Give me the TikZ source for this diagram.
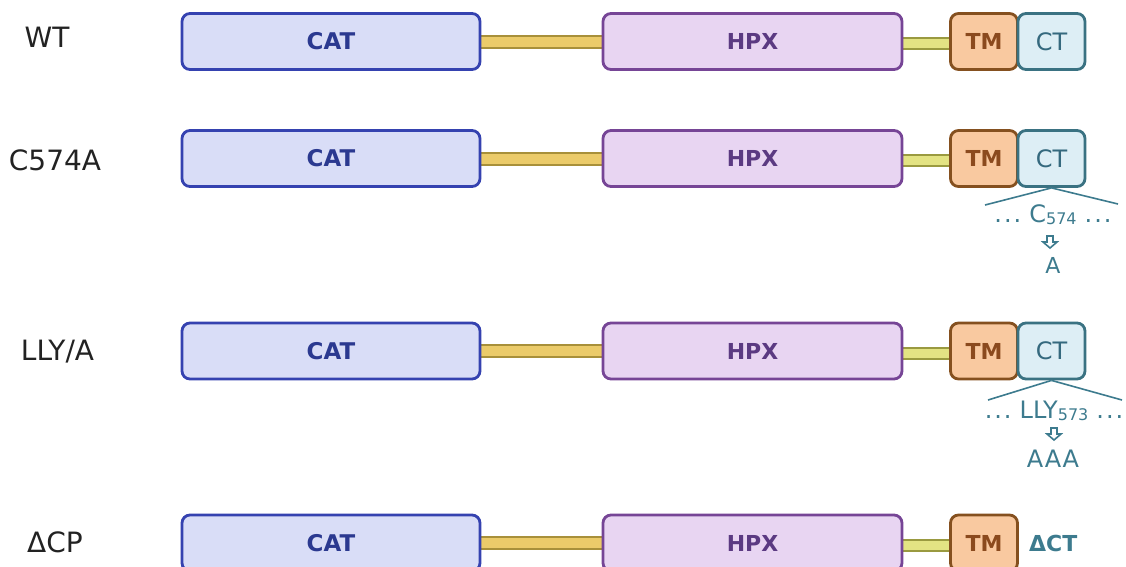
\documentclass[tikz,border=0pt]{standalone}
\usepackage{fontspec}
\setmainfont{DejaVu Sans}
\usetikzlibrary{backgrounds}
\definecolor{catfill}{HTML}{D9DDF7}
\definecolor{catdraw}{HTML}{3542B0}
\definecolor{cattext}{HTML}{2B3990}
\definecolor{hpxfill}{HTML}{E8D5F2}
\definecolor{hpxdraw}{HTML}{764596}
\definecolor{hpxtext}{HTML}{5B3A82}
\definecolor{tmfill}{HTML}{F9C9A0}
\definecolor{tmdraw}{HTML}{85501F}
\definecolor{tmtext}{HTML}{8B4A1E}
\definecolor{ctfill}{HTML}{DDEEF5}
\definecolor{ctdraw}{HTML}{3A7282}
\definecolor{cttext}{HTML}{35697E}
\definecolor{annot}{HTML}{3D7B8E}
\definecolor{goldfill}{HTML}{EBCB6A}
\definecolor{golddraw}{HTML}{A8903A}
\definecolor{yelfill}{HTML}{E3E383}
\definecolor{yeldraw}{HTML}{9A9A40}
\definecolor{labtext}{HTML}{222222}
\tikzset{
  dom/.style={draw, rounded corners=8pt, line width=2.8pt, inner sep=0pt, minimum height=56pt},
  catbox/.style={dom, fill=catfill, draw=catdraw, text=cattext, minimum width=298pt, font=\bfseries\fontsize{23}{23}\selectfont},
  hpxbox/.style={dom, fill=hpxfill, draw=hpxdraw, text=hpxtext, minimum width=299pt, font=\bfseries\fontsize{22}{22}\selectfont},
  tmbox/.style={dom, fill=tmfill, draw=tmdraw, text=tmtext, minimum width=67pt, font=\bfseries\fontsize{22}{22}\selectfont},
  ctbox/.style={dom, fill=ctfill, draw=ctdraw, text=cttext, minimum width=67pt, font=\fontsize{24}{24}\selectfont},
  linkA/.style={draw=golddraw, double=goldfill, line width=2pt, double distance=10pt},
  linkB/.style={draw=yeldraw, double=yelfill, line width=2pt, double distance=9pt},
  rowlab/.style={anchor=base, text=labtext, inner sep=0pt, font=\fontsize{28}{28}\selectfont},
  annottext/.style={anchor=base, text=annot, inner sep=0pt, font=\fontsize{24}{24}\selectfont},
  spread/.style={draw=annot, line width=1.6pt},
  hollowarrow/.style={draw=annot, line width=1.6pt, fill=white, line join=miter},
}
\newcommand\subnum[1]{{\fontsize{16}{16}\selectfont\raisebox{-2pt}{#1}}}
\begin{document}
\begin{tikzpicture}[x=1pt,y=-1pt]
\useasboundingbox (0,0) rectangle (1126,566);
\clip (0,0) rectangle (1126,566);

% row labels
\node[rowlab] (lab1) at (47,47) {WT};
\node[rowlab] (lab2) at (55,170) {C574A};
\node[rowlab] (lab3) at (57.5,360) {LLY/A};
\node[rowlab] (lab4) at (55,552) {ΔCP};

\foreach \r/\y in {1/41.5,2/158.5,3/351,4/543}{
  \node[catbox] (cat\r) at (331,\y) {CAT};
  \node[hpxbox] (hpx\r) at (752.5,\y) {HPX};
  \node[tmbox] (tm\r) at (984,\y) {TM};
  \begin{scope}[on background layer]
    \draw[linkA] (cat\r.east) -- (hpx\r.west);
    \draw[linkB] ([yshift=-2pt]hpx\r.east) -- ([yshift=-2pt]tm\r.west);
  \end{scope}
}
\foreach \r/\y in {1/41.5,2/158.5,3/351}{
  \node[ctbox] (ct\r) at (1051.5,\y) {CT};
}

% C574A annotation
\coordinate (l2a) at (985,205);
\coordinate (l2b) at (1118,204);
\draw[spread] (ct2.south) -- (l2a);
\draw[spread] (ct2.south) -- (l2b);
\node[annottext] (mut2) at (1053,222) {.\kern2pt.\kern2pt.\,\,C\subnum{574}\,\,.\kern2pt.\kern2pt.};
\draw[hollowarrow, shift={(1050,236)}] (-3,0) -- (3,0) -- (3,6) -- (7,6) -- (0,12) -- (-7,6) -- (-3,6) -- cycle;
\node[annottext, font=\fontsize{22}{22}\selectfont] (sub2) at (1053,273) {A};

% LLY/A annotation
\coordinate (l3a) at (988,400);
\coordinate (l3b) at (1122,400);
\draw[spread] (ct3.south) -- (l3a);
\draw[spread] (ct3.south) -- (l3b);
\node[annottext] (mut3) at (1054,418) {.\kern2pt.\kern2pt.\,\,LLY\subnum{573}\,\,.\kern2pt.\kern2pt.};
\draw[hollowarrow, shift={(1054,428)}] (-3,0) -- (3,0) -- (3,6) -- (7,6) -- (0,12) -- (-7,6) -- (-3,6) -- cycle;
\node[annottext, font=\fontsize{24}{24}\selectfont] (sub3) at (1053,467) {A\kern1.5pt A\kern1.5pt A};

% Delta CT
\node[annottext, font=\bfseries\fontsize{22}{22}\selectfont, anchor=base west] (dct) at (1029,551) {ΔCT};
\end{tikzpicture}
\end{document}
